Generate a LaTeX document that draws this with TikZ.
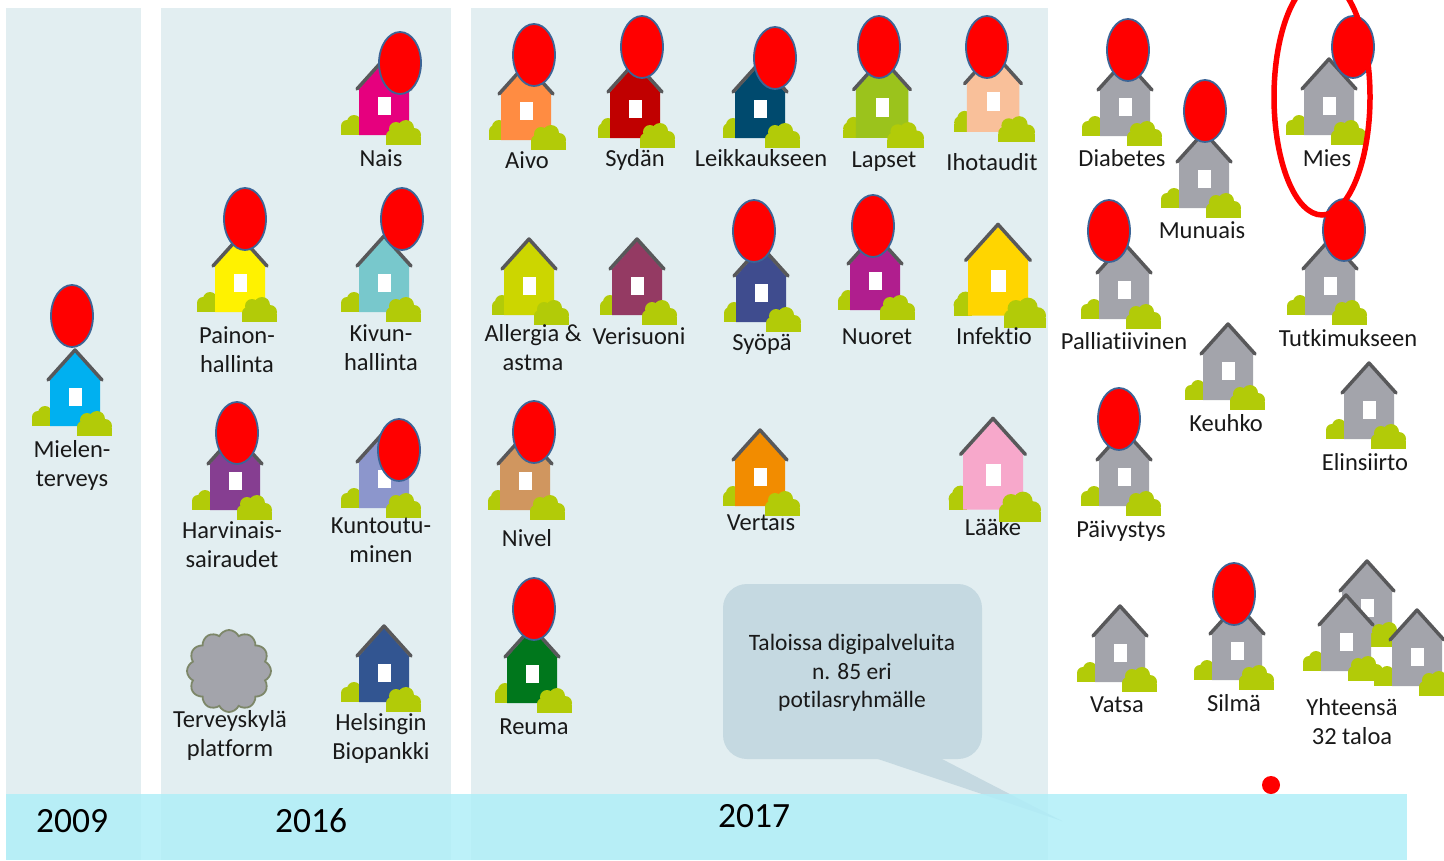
\documentclass[tikz,border=0pt]{standalone}
\usepackage{fontspec}
\setmainfont{Carlito}[Ligatures=NoCommon]
\usetikzlibrary{shapes.geometric,shapes.symbols}
\definecolor{panelc}{HTML}{E2EEF1}
\definecolor{bandc}{HTML}{B0EEF8}
\definecolor{callc}{HTML}{C5D9E1}
\definecolor{bushc}{HTML}{B2CB08}
\definecolor{roofc}{HTML}{58585A}
\definecolor{grayh}{HTML}{A3A4AB}
\definecolor{balloonc}{HTML}{3C6496}
\definecolor{cloudc}{HTML}{7D8769}
\definecolor{mielenc}{HTML}{00B0F0}
\definecolor{naisc}{HTML}{E6007E}
\definecolor{kivunc}{HTML}{78C8CC}
\definecolor{harvc}{HTML}{863E91}
\definecolor{kuntoc}{HTML}{8C96CC}
\definecolor{helsinkic}{HTML}{325591}
\definecolor{aivoc}{HTML}{FF8C42}
\definecolor{sydanc}{HTML}{C00000}
\definecolor{leikkausc}{HTML}{004A6E}
\definecolor{lapsetc}{HTML}{9BC31C}
\definecolor{ihoc}{HTML}{F9C09A}
\definecolor{allergiac}{HTML}{CCD600}
\definecolor{veric}{HTML}{943A63}
\definecolor{syopac}{HTML}{3F4C8E}
\definecolor{nuoretc}{HTML}{B01E8E}
\definecolor{infektioc}{HTML}{FFD500}
\definecolor{nivelc}{HTML}{D0965F}
\definecolor{vertaisc}{HTML}{F28C00}
\definecolor{laakec}{HTML}{F7A8CB}
\definecolor{reumac}{HTML}{00771C}
\tikzset{
	lbl/.style={align=center,inner sep=0pt,yshift=-3.5pt,text=black!90,font=\fontsize{24.5}{29}\selectfont,execute at begin node=\strut,execute at end node=\strut},
	yearlbl/.style={inner sep=0pt,text=black,font=\fontsize{35.5}{40}\selectfont},
	balloon/.style={ellipse,fill=red,draw=balloonc,line width=1.8pt,minimum width=42pt,minimum height=62pt,inner sep=0pt},
	pics/house/.style 2 args={code={
		\fill[bushc] (-43+2*#2,70) rectangle (-22,78);
		\fill[bushc] (-37+2*#2,69) circle[radius=6];
		\fill[bushc] (-30+#2,65) circle[radius=7];
		\fill[#1] (-25,32) -- (0,4) -- (25,32) -- (25,78) -- (-25,78) -- cycle;
		\fill[white] (-6,40) rectangle (7,58);
		\draw[roofc,line width=3.5pt,line cap=round,line join=round] (-27,32) -- (0,2) -- (27,32);
		\fill[bushc] (2+#2,80) rectangle (37+#2,88);
		\fill[bushc] (4+#2,76) rectangle (34+#2,82);
		\fill[bushc] (8+#2,79) circle[radius=6];
		\fill[bushc] (12+#2,72) circle[radius=7];
		\fill[bushc] (22+#2,71) circle[radius=8];
		\fill[bushc] (30+#2,78) circle[radius=7];
	}}
}
\begin{document}
\begin{tikzpicture}[x=1pt,y=-1pt]
	\useasboundingbox (0,0) rectangle (1444,860);
	\fill[panelc] (6,8) rectangle (141,860);
	\fill[panelc] (161,8) rectangle (451,860);
	\fill[panelc] (471,8) rectangle (1048,860);
	% labels that the houses partly hide
	\node[lbl] (lVertais) at (761,521) {Vertais};
	\node[lbl] (lLaake) at (993,526) {Lääke};
	\fill[panelc] (725,490) rectangle (800,513);
	\fill[panelc] (955,490) rectangle (1040,517);
	% 2009
	\pic at (75,348) {house={{mielenc}{0}}};
	\node[balloon] (bMielen) at (72,316) {};
	\node[lbl] (lMielen) at (72,464) {Mielen-\\terveys};
	% 2016
	\pic at (384,57) {house={{naisc}{0}}};
	\node[balloon] (bNais) at (400,63) {};
	\node[lbl] (lNais) at (381,157) {Nais};
	\pic at (240,234) {house={{yellow}{0}}};
	\node[balloon] (bPainon) at (245,219) {};
	\node[lbl] (lPainon) at (237,350) {Painon-\\hallinta};
	\pic at (384,234) {house={{kivunc}{0}}};
	\node[balloon] (bKivun) at (402,219) {};
	\node[lbl] (lKivun) at (381,348) {Kivun-\\hallinta};
	\pic at (235,432) {house={{harvc}{0}}};
	\node[balloon] (bHarv) at (237,433) {};
	\node[lbl] (lHarv) at (232,545) {Harvinais-\\sairaudet};
	\pic at (384,430) {house={{kuntoc}{0}}};
	\node[balloon] (bKunto) at (399,450) {};
	\node[lbl] (lKunto) at (381,541) {Kuntoutu-\\minen};
	\node[cloud,cloud puffs=12,cloud puff arc=130,aspect=1,fill=grayh,draw=cloudc,line width=1.8pt,minimum width=84pt,minimum height=82pt,inner sep=0pt] (cTerveys) at (229,671) {};
	\node[lbl] (lTerveys) at (230,734) {Terveyskylä\\platform};
	\pic at (384,624) {house={{helsinkic}{0}}};
	\node[lbl] (lHelsinki) at (381,737) {Helsingin\\Biopankki};
	% 2017
	\pic at (526,62) {house={{aivoc}{3}}};
	\node[balloon] (bAivo) at (534,55) {};
	\node[lbl] (lAivo) at (527,159) {Aivo};
	\pic at (635,60) {house={{sydanc}{3}}};
	\node[balloon] (bSydan) at (642,47) {};
	\node[lbl] (lSydan) at (635,157) {Sydän};
	\pic at (760,60) {house={{leikkausc}{3}}};
	\node[balloon] (bLeikkaus) at (775,58) {};
	\node[lbl] (lLeikkaus) at (761,157) {Leikkaukseen};
	\pic[scale=1.05] at (882,56) {house={{lapsetc}{3}}};
	\node[balloon] (bLapset) at (879,47) {};
	\node[lbl] (lLapset) at (884,158) {Lapset};
	\pic[scale=1.05] at (993,50) {house={{ihoc}{3}}};
	\node[balloon] (bIho) at (987,47) {};
	\node[lbl] (lIho) at (992,161) {Ihotaudit};
	\pic at (529,237) {house={{allergiac}{3}}};
	\node[lbl] (lAllergia) at (533,348) {Allergia \&\\astma};
	\pic at (637,237) {house={{veric}{3}}};
	\node[lbl] (lVeri) at (639,335) {Verisuoni};
	\pic at (761,244) {house={{syopac}{3}}};
	\node[balloon] (bSyopa) at (754,231) {};
	\node[lbl] (lSyopa) at (762,341) {Syöpä};
	\pic at (875,232) {house={{nuoretc}{3}}};
	\node[balloon] (bNuoret) at (873,226) {};
	\node[lbl] (lNuoret) at (877,335) {Nuoret};
	\pic[scale=1.2] at (998,222) {house={{infektioc}{3}}};
	\node[lbl] (lInfektio) at (994,335) {Infektio};
	\pic at (525,432) {house={{nivelc}{3}}};
	\node[balloon] (bNivel) at (534,432) {};
	\node[lbl] (lNivel) at (527,537) {Nivel};
	\pic at (760,428) {house={{vertaisc}{3}}};
	\pic[scale=1.2] at (993,416) {house={{laakec}{3}}};
	\pic at (532,625) {house={{reumac}{3}}};
	\node[balloon] (bReuma) at (534,609) {};
	\node[lbl] (lReuma) at (534,725) {Reuma};
	% white area
	\pic at (1125,58) {house={{grayh}{0}}};
	\node[balloon] (bDiabetes) at (1128,50) {};
	\node[lbl] (lDiabetes) at (1122,157) {Diabetes};
	\pic at (1204,130) {house={{grayh}{0}}};
	\node[balloon] (bMunuais) at (1205,111) {};
	\node[lbl] (lMunuais) at (1202,229) {Munuais};
	\pic at (1329,57) {house={{grayh}{0}}};
	\node[balloon] (bMies) at (1353,47) {};
	\node[lbl] (lMies) at (1327,157) {Mies};
	\pic at (1124,241) {house={{grayh}{0}}};
	\node[balloon] (bPallia) at (1109,231) {};
	\node[lbl] (lPallia) at (1124,340) {Palliatiivinen};
	\pic at (1330,237) {house={{grayh}{0}}};
	\node[balloon] (bTutki) at (1344,230) {};
	\node[lbl] (lTutki) at (1348,337) {Tutkimukseen};
	\pic at (1228,322) {house={{grayh}{0}}};
	\node[lbl] (lKeuhko) at (1226,422) {Keuhko};
	\pic at (1369,361) {house={{grayh}{0}}};
	\node[lbl] (lElin) at (1365,461) {Elinsiirto};
	\pic at (1124,428) {house={{grayh}{0}}};
	\node[balloon] (bPaivys) at (1119,419) {};
	\node[lbl] (lPaivys) at (1121,528) {Päivystys};
	\pic at (1120,604) {house={{grayh}{0}}};
	\node[lbl] (lVatsa) at (1117,703) {Vatsa};
	\pic at (1237,602) {house={{grayh}{0}}};
	\node[balloon] (bSilma) at (1234,594) {};
	\node[lbl] (lSilma) at (1234,702) {Silmä};
	\pic at (1367,559) {house={{grayh}{0}}};
	\pic at (1346,593) {house={{grayh}{0}}};
	\pic at (1417,608) {house={{grayh}{0}}};
	\node[lbl] (lYht) at (1352,722) {Yhteensä\\32 taloa};
	% ring round Mies
	\node[ellipse,draw=red,line width=5.5pt,minimum width=96pt,minimum height=236pt,inner sep=0pt] (rMies) at (1322,97) {};
	% callout and band
	\node[fill=callc,rounded corners=24pt,minimum width=259pt,minimum height=175pt,inner sep=0pt] (call) at (852.5,671.5) {};
	\coordinate (tipA) at (875,758);
	\coordinate (tipB) at (940,758);
	\coordinate (tipC) at (1062,821);
	\fill[callc] (tipA) -- (tipC) -- (tipB) -- cycle;
	\node[lbl,font=\fontsize{23.5}{28.5}\selectfont] (lCall) at (852,672) {Taloissa digipalveluita\\n. 85 eri\\potilasryhmälle};
	\fill[bandc,opacity=.85] (6,794) rectangle (1407,860);
	\node[yearlbl] (y2009) at (72,821) {2009};
	\node[yearlbl] (y2016) at (311,821) {2016};
	\node[yearlbl] (y2017) at (754,816) {2017};
	\node[circle,fill=red,minimum size=18pt,inner sep=0pt] (dot) at (1271,785) {};
\end{tikzpicture}
\end{document}
